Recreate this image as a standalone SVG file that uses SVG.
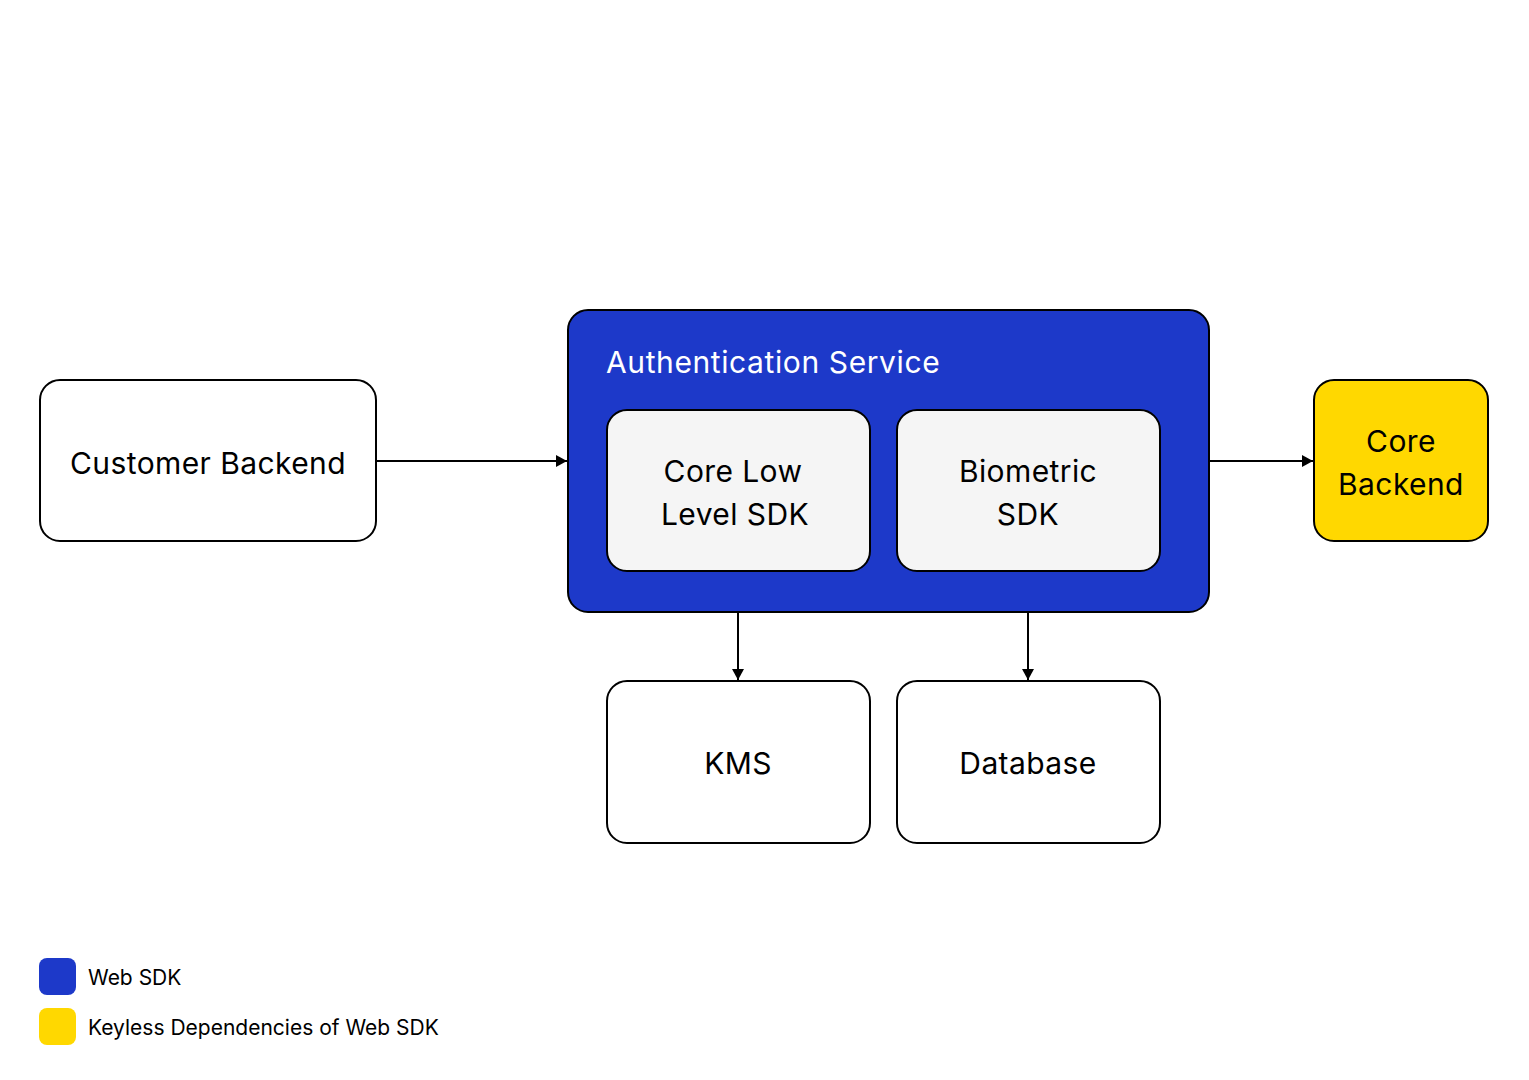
<svg xmlns="http://www.w3.org/2000/svg" width="1529" height="1080" viewBox="0 0 1529 1080">
<style>
.box{stroke:#000;stroke-width:2}
.w{fill:#fff}
.g{fill:#f5f5f5}
.b{fill:#1d39c9}
.y{fill:#ffd800}
text{font-family:Inter,"Noto Sans",sans-serif;fill:#000}
.t{font-size:30px;text-anchor:middle;letter-spacing:0.4px}
.lg{font-size:21px}
.conn{stroke:#000;stroke-width:2;fill:none;marker-end:url(#ah)}
</style>
<defs>
<marker id="ah" viewBox="0 0 11 12" refX="11" refY="6" markerWidth="5.5" markerHeight="6" orient="auto" markerUnits="strokeWidth">
<path d="M0,0 L11,6 L0,12 z" fill="#000"/>
</marker>
</defs>
<rect width="1529" height="1080" fill="#fff"/>
<g id="customer-backend">
<rect class="box w" x="40" y="380" width="336" height="161" rx="20"/>
<text class="t" x="208" y="474">Customer Backend</text>
</g>
<g id="auth-service">
<rect class="box b" x="568" y="310" width="641" height="302" rx="20"/>
<text x="606" y="373" style="font-size:30px;fill:#fff;letter-spacing:0.6px">Authentication Service</text>
</g>
<g id="core-low-level-sdk">
<rect class="box g" x="607" y="410" width="263" height="161" rx="20"/>
<text class="t" x="733" y="482">Core Low</text>
<text class="t" x="735" y="525">Level SDK</text>
</g>
<g id="biometric-sdk">
<rect class="box g" x="897" y="410" width="263" height="161" rx="20"/>
<text class="t" x="1028" y="482">Biometric</text>
<text class="t" x="1028" y="525">SDK</text>
</g>
<g id="core-backend">
<rect class="box y" x="1314" y="380" width="174" height="161" rx="20"/>
<text class="t" x="1401" y="452">Core</text>
<text class="t" x="1401" y="495">Backend</text>
</g>
<g id="kms">
<rect class="box w" x="607" y="681" width="263" height="162" rx="20"/>
<text class="t" x="738" y="774">KMS</text>
</g>
<g id="database">
<rect class="box w" x="897" y="681" width="263" height="162" rx="20"/>
<text class="t" x="1028" y="774">Database</text>
</g>
<g id="connectors">
<path class="conn" d="M377,461 H567"/>
<path class="conn" d="M1210,461 H1313"/>
<path class="conn" d="M738,613 V680"/>
<path class="conn" d="M1028,613 V680"/>
</g>
<g id="legend">
<rect class="b" x="39" y="958" width="37" height="37" rx="8"/>
<text class="lg" x="88" y="985">Web SDK</text>
<rect class="y" x="39" y="1008" width="37" height="37" rx="8"/>
<text class="lg" x="88" y="1035">Keyless Dependencies of Web SDK</text>
</g>
</svg>
